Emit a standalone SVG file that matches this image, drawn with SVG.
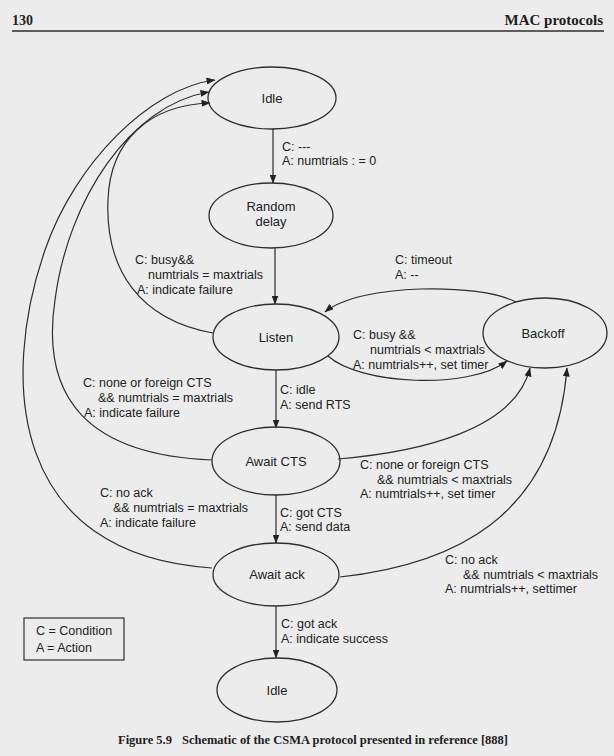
<svg xmlns="http://www.w3.org/2000/svg" width="614" height="756" viewBox="0 0 614 756">
<defs>
<marker id="ah" markerUnits="userSpaceOnUse" markerWidth="9" markerHeight="7" refX="8.5" refY="3.5" orient="auto">
<path d="M0,0 L9,3.5 L0,7 z" fill="#222"/>
</marker>
</defs>
<style>
.node{fill:none;stroke:#2e2e2e;stroke-width:1.3}
.nt{font-family:"Liberation Sans",Arial,sans-serif;font-size:13px;fill:#222;text-anchor:middle}
.lb{font-family:"Liberation Sans",Arial,sans-serif;font-size:12.5px;fill:#222}
.edge{fill:none;stroke:#2e2e2e;stroke-width:1.2}
.arr{marker-end:url(#ah)}
.hd{font-family:"Liberation Serif","Times New Roman",serif;font-weight:bold;fill:#1e1e1e}
</style>
<rect x="0" y="0" width="614" height="756" fill="#ececec"/>
<g id="header">
<text class="hd" x="12" y="25" font-size="14">130</text>
<text class="hd" x="603" y="25" font-size="15" text-anchor="end">MAC protocols</text>
<line x1="12" y1="31" x2="604" y2="31" stroke="#2e2e2e" stroke-width="1.5"/>
</g>
<g id="connectors">
<line class="edge arr" x1="273" y1="129" x2="273" y2="183"/>
<line class="edge arr" x1="275" y1="248" x2="275" y2="304"/>
<line class="edge arr" x1="276" y1="370" x2="276" y2="428"/>
<line class="edge arr" x1="276" y1="495" x2="276" y2="543"/>
<line class="edge arr" x1="276" y1="606" x2="276" y2="658"/>
<path class="edge arr" d="M212,568 C10,555 0,380 45,250 C75,163 150,88 215,80"/>
<path class="edge arr" d="M212,460 C90,455 40,400 55,300 C68,200 130,105 209,92"/>
<path class="edge arr" d="M213,333 C140,320 105,270 108,200 C110,140 150,105 210,103"/>
<path class="edge arr" d="M516,302 C480,283 360,283 325,312"/>
<path class="edge arr" d="M328,356 C360,385 470,390 507,361"/>
<path class="edge arr" d="M338,459 C420,452 515,430 530,368"/>
<path class="edge arr" d="M340,577 C450,565 555,520 567,368"/>
</g>
<g id="idle-top">
<ellipse class="node" cx="272" cy="98" rx="64" ry="31"/>
<text class="nt" x="272" y="102.5">Idle</text>
</g>
<g id="random-delay">
<ellipse class="node" cx="271" cy="215.5" rx="62" ry="32.5"/>
<text class="nt" x="271" y="211">Random</text>
<text class="nt" x="271" y="226">delay</text>
</g>
<g id="listen">
<ellipse class="node" cx="276" cy="337" rx="63" ry="33"/>
<text class="nt" x="276" y="341.5">Listen</text>
</g>
<g id="backoff">
<ellipse class="node" cx="545" cy="333" rx="62" ry="35"/>
<text class="nt" x="543" y="337.5">Backoff</text>
</g>
<g id="await-cts">
<ellipse class="node" cx="276" cy="461" rx="64" ry="34"/>
<text class="nt" x="276" y="466">Await CTS</text>
</g>
<g id="await-ack">
<ellipse class="node" cx="276" cy="574.5" rx="63" ry="31.5"/>
<text class="nt" x="277" y="579">Await ack</text>
</g>
<g id="idle-bottom">
<ellipse class="node" cx="277" cy="690" rx="60" ry="32"/>
<text class="nt" x="277" y="694.5">Idle</text>
</g>
<g id="labels">
<text class="lb" x="282" y="151">C: ---</text>
<text class="lb" x="282" y="165">A: numtrials : = 0</text>
<text class="lb" x="135" y="264">C: busy&amp;&amp;</text>
<text class="lb" x="148" y="279">numtrials = maxtrials</text>
<text class="lb" x="137" y="294">A: indicate failure</text>
<text class="lb" x="395" y="264">C: timeout</text>
<text class="lb" x="395" y="279">A: --</text>
<text class="lb" x="353" y="339">C: busy &amp;&amp;</text>
<text class="lb" x="370" y="354">numtrials &lt; maxtrials</text>
<text class="lb" x="353" y="369">A: numtrials++, set timer</text>
<text class="lb" x="280" y="394">C: idle</text>
<text class="lb" x="280" y="409">A: send RTS</text>
<text class="lb" x="83" y="387">C: none or foreign CTS</text>
<text class="lb" x="98" y="402">&amp;&amp; numtrials = maxtrials</text>
<text class="lb" x="84" y="417">A: indicate failure</text>
<text class="lb" x="360" y="469">C: none or foreign CTS</text>
<text class="lb" x="377" y="484">&amp;&amp; numtrials &lt; maxtrials</text>
<text class="lb" x="360" y="498">A: numtrials++, set timer</text>
<text class="lb" x="100" y="497">C: no ack</text>
<text class="lb" x="113" y="512">&amp;&amp; numtrials = maxtrials</text>
<text class="lb" x="100" y="527">A: indicate failure</text>
<text class="lb" x="280" y="517">C: got CTS</text>
<text class="lb" x="280" y="531">A: send data</text>
<text class="lb" x="445" y="564">C: no ack</text>
<text class="lb" x="463" y="579">&amp;&amp; numtrials &lt; maxtrials</text>
<text class="lb" x="445" y="593">A: numtrials++, settimer</text>
<text class="lb" x="281" y="628">C: got ack</text>
<text class="lb" x="281" y="643">A: indicate success</text>
</g>
<g id="legend">
<rect x="24" y="618" width="100" height="42" fill="none" stroke="#2e2e2e" stroke-width="1.2"/>
<text class="lb" x="36" y="635">C = Condition</text>
<text class="lb" x="36" y="652">A = Action</text>
</g>
<g id="caption">
<text class="hd" x="118" y="744" font-size="12.5">Figure 5.9<tspan dx="10">Schematic of the CSMA protocol presented in reference [888]</tspan></text>
</g>
</svg>
